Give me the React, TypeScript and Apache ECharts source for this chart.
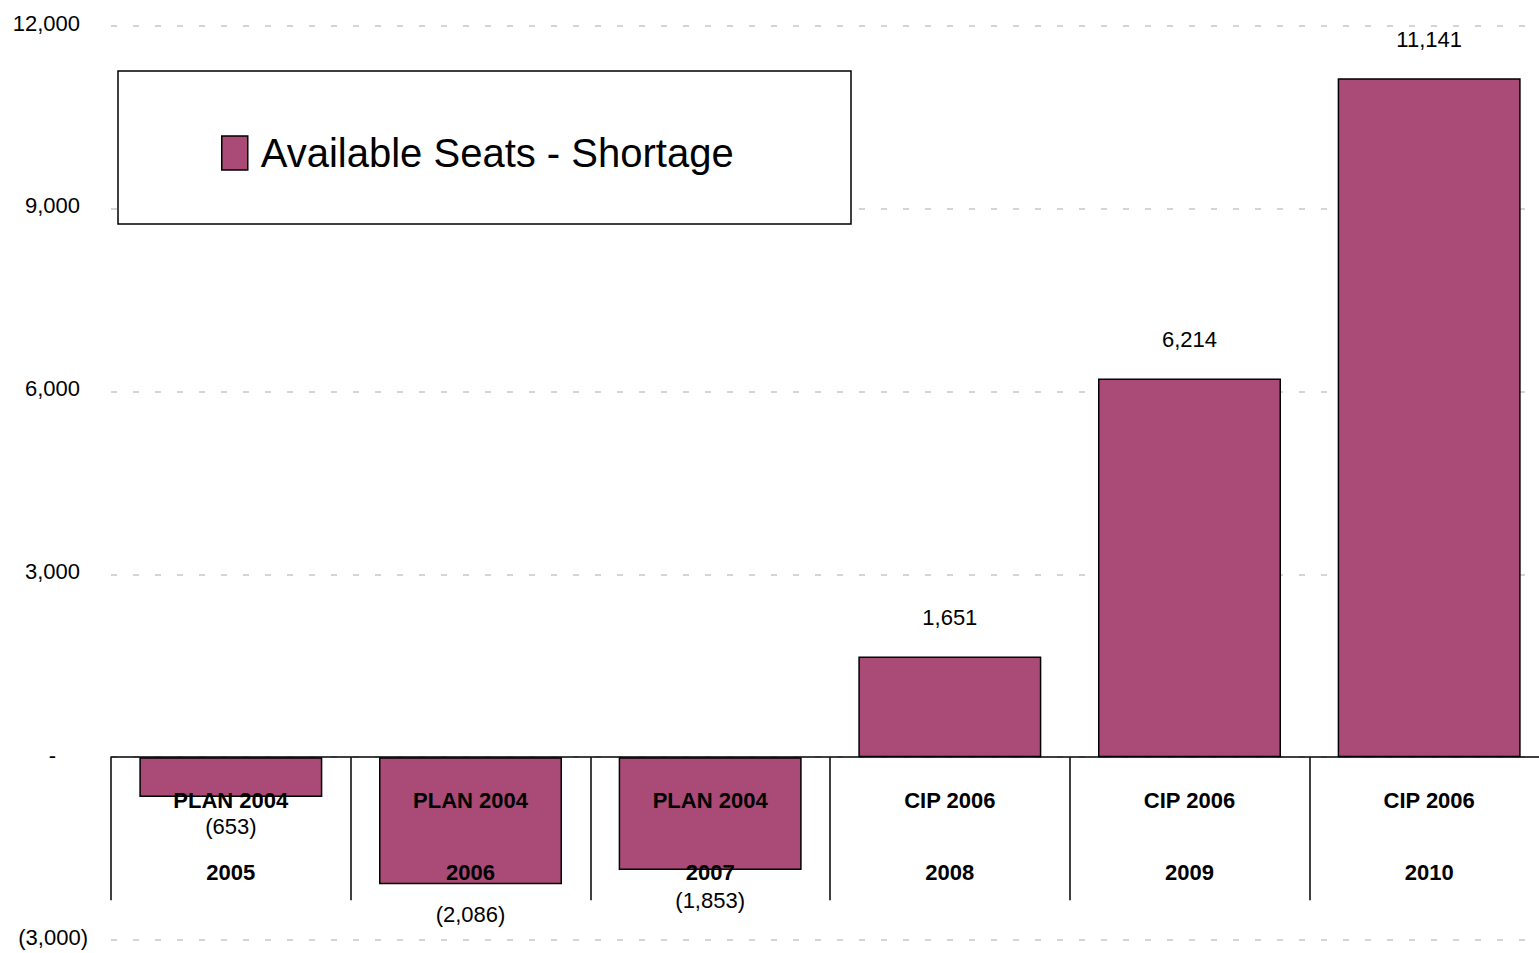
import React, { useEffect, useRef } from "react";
import * as echarts from "echarts";

const categories = ["2005", "2006", "2007", "2008", "2009", "2010"];
const plans = ["PLAN 2004", "PLAN 2004", "PLAN 2004", "CIP 2006", "CIP 2006", "CIP 2006"];
const shortage = [-653, -2086, -1853, 1651, 6214, 11141];
const seriesName = "Available Seats - Shortage";

const FONT = "'Liberation Sans Narrow', 'Arial Narrow', 'Liberation Sans', Arial, sans-serif";
const BAR = "#A94A77";

const fmt = (v: number) =>
  v < 0 ? `(${Math.abs(v).toLocaleString("en-US")})` : v.toLocaleString("en-US");

const GRID_TOP = 26;
const GRID_BOTTOM_Y = 940;
const Y_MIN = -3000;
const Y_MAX = 12000;
// shift the category axis from the grid bottom up to the zero line
const ZERO_OFFSET = -((GRID_BOTTOM_Y - GRID_TOP) * (0 - Y_MIN)) / (Y_MAX - Y_MIN);

export default function App() {
  const ref = useRef<HTMLDivElement>(null);
  useEffect(() => {
    if (!ref.current) return;
    const chart = echarts.init(ref.current, undefined, { renderer: "svg" });
    chart.setOption({
      animation: false,
      backgroundColor: "#ffffff",
      textStyle: { fontFamily: FONT },
      grid: { left: 111, right: -10, top: GRID_TOP, bottom: 953 - GRID_BOTTOM_Y, containLabel: false, outerBoundsMode: "none" },
      graphic: [
        {
          type: "rect",
          z: 3,
          shape: { x: 118, y: 71, width: 733, height: 153 },
          style: { fill: "#ffffff", stroke: "#000000", lineWidth: 1.5 },
        },
      ],
      legend: {
        z: 4,
        left: 216,
        top: 125,
        selectedMode: false,
        icon: "rect",
        itemWidth: 26,
        itemHeight: 34,
        itemStyle: { color: BAR, borderColor: "#000000", borderWidth: 1.5 },
        textStyle: { fontFamily: FONT, fontSize: 40, color: "#000000", lineHeight: 46, padding: [0, 0, 0, 8] },
        data: [seriesName],
      },
      xAxis: {
        type: "category",
        data: categories,
        z: 10,
        offset: ZERO_OFFSET,
        axisLine: { onZero: false, lineStyle: { color: "#000000", width: 1.5 } },
        axisTick: { show: true, alignWithLabel: false, length: 143, lineStyle: { color: "#000000", width: 1.5 } },
        axisLabel: {
          margin: 25,
          interval: 0,
          fontFamily: FONT,
          fontSize: 22,
          fontWeight: "bold",
          color: "#000000",
          lineHeight: 36,
          formatter: (v: string, i: number) => `${plans[i]}\n\n${v}`,
        },
        splitLine: { show: false },
      },
      yAxis: {
        type: "value",
        min: Y_MIN,
        max: Y_MAX,
        interval: 3000,
        axisLine: { show: false },
        axisTick: { show: false },
        splitLine: { show: true, lineStyle: { color: "#c8c8c8", width: 1.5, type: [6, 16] } },
        axisLabel: {
          margin: 23,
          fontFamily: FONT,
          fontSize: 22,
          color: "#000000",
          formatter: (v: number) => {
            if (v === 0) return "{z|-}";
            if (v < 0) return `{n|${fmt(v)}}`;
            return `{p|${fmt(v)}}`;
          },
          rich: {
            p: { fontFamily: FONT, fontSize: 22, color: "#000000", padding: [0, 8, 6, 0] },
            n: { fontFamily: FONT, fontSize: 22, color: "#000000", padding: [0, 0, 6, 0] },
            z: { fontFamily: FONT, fontSize: 22, color: "#000000", padding: [0, 32, 4, 0] },
          },
        },
      },
      series: [
        {
          name: seriesName,
          type: "bar",
          barWidth: 183,
          itemStyle: { color: BAR, borderColor: "#000000", borderWidth: 1.5 },
          data: shortage.map((v) => ({
            value: v,
            label: v < 0 ? { position: "bottom", distance: 19 } : { position: "top", distance: 28 },
          })),
          label: {
            show: true,
            fontFamily: FONT,
            fontSize: 22,
            color: "#000000",
            formatter: (p: any) => fmt(p.value),
          },
        },
      ],
    });
    return () => chart.dispose();
  }, []);
  return <div ref={ref} style={{ position: "absolute", left: 0, top: 0, width: 1539, height: 953 }} />;
}
